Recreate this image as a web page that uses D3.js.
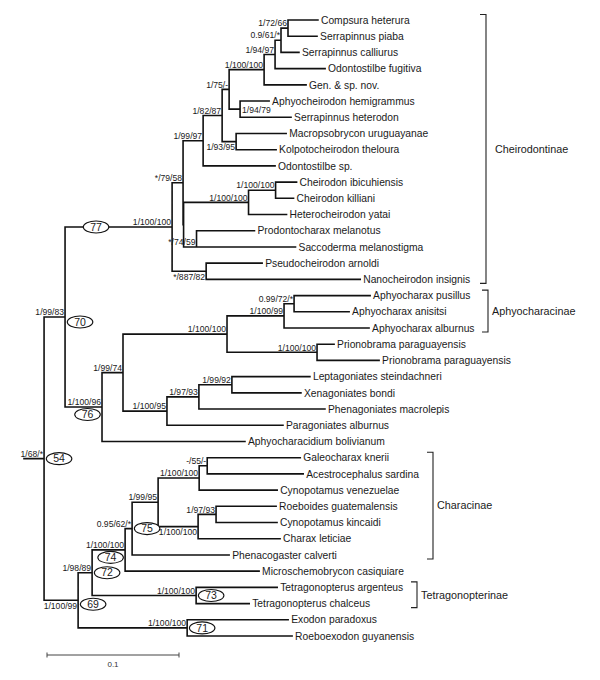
<!DOCTYPE html>
<html><head><meta charset="utf-8">
<script src="https://cdn.jsdelivr.net/npm/d3@7"></script>
<style>body{margin:0;background:#fff}</style>
</head><body>
<svg id="c" width="600" height="680"></svg>
<script>
// ---------- DATA ----------
const leafNames = ["Compsura heterura","Serrapinnus piaba","Serrapinnus calliurus","Odontostilbe fugitiva","Gen. & sp. nov.",
 "Aphyocheirodon hemigrammus","Serrapinnus heterodon","Macropsobrycon uruguayanae","Kolpotocheirodon theloura","Odontostilbe sp.",
 "Cheirodon ibicuhiensis","Cheirodon killiani","Heterocheirodon yatai","Prodontocharax melanotus","Saccoderma melanostigma",
 "Pseudocheirodon arnoldi","Nanocheirodon insignis","Aphyocharax pusillus","Aphyocharax anisitsi","Aphyocharax alburnus",
 "Prionobrama paraguayensis","Prionobrama paraguayensis","Leptagoniates steindachneri","Xenagoniates bondi","Phenagoniates macrolepis",
 "Paragoniates alburnus","Aphyocharacidium bolivianum","Galeocharax knerii","Acestrocephalus sardina","Cynopotamus venezuelae",
 "Roeboides guatemalensis","Cynopotamus kincaidi","Charax leticiae","Phenacogaster calverti","Microschemobrycon casiquiare",
 "Tetragonopterus argenteus","Tetragonopterus chalceus","Exodon paradoxus","Roeboexodon guyanensis"];
const leafParents = ["C8","C8","C7","C6","C5","C9","C9","C10","C10","C2","C13","C13","C12","C14","C14","C15","C15",
 "A4","A4","A3","A5","A5","A8","A8","A7","A6","N76","H3","H3","H2","H5","H5","H4","N75","N74","N73","N73","N71","N71"];
const leafLengths = [0.0227,0.0220,0.0136,0.0379,0.0318,0.0220,0.0386,0.0379,0.0303,0.0545,0.0159,0.0136,0.0288,0.0439,0.0750,
 0.0424,0.1167,0.0576,0.0417,0.0644,0.0129,0.0470,0.0591,0.0523,0.0955,0.0879,0.1083,0.0705,0.0727,0.0591,0.0455,0.0462,
 0.0621,0.0735,0.1015,0.0614,0.0402,0.0765,0.0795];

const nodeIds     = ["R","N70","N77","C1","C2","C3","C4","C5","C6","C7","C8","C9","C10","C11","C12","C13","C14","C15",
 "N76","A1","A2","A3","A4","A5","A6","A7","A8","N69","N72","N74","N75","H1","H2","H3","H4","H5","N73","N71"];
const nodeParents = ["","R","N70","N77","C1","C2","C3","C4","C5","C6","C7","C4","C3","C1","C11","C12","C11","N77",
 "N70","N76","A1","A2","A3","A2","A1","A6","A7","R","N69","N72","N74","N75","H1","H2","H1","H4","N72","N69"];
const nodeLengths = [0,0.0159,0.0811,0.0083,0.0152,0.0144,0.0053,0.0265,0.0083,0.0045,0.0053,0.0083,0.0106,0.0004,0.0492,0.0205,0.0098,0.0258,
 0.0280,0.0159,0.0788,0.0432,0.0076,0.0682,0.0333,0.0242,0.0250,0.0258,0.0106,0.0250,0.0053,0.0197,0.0311,0.0061,0.0303,0.0136,0.0788,0.0826];
const nodeSupports = ["1/68/*","1/99/83","1/100/100","*/79/58","1/99/97","1/82/87","1/75/-","1/100/100","1/94/97","0.9/61/*","1/72/66","1/94/79","1/93/95","","1/100/100","1/100/100","*/74/59","*/887/82",
 "1/100/96","1/99/74","1/100/100","1/100/99","0.99/72/*","1/100/100","1/100/95","1/97/93","1/99/92","1/100/99","1/98/89","1/100/100","0.95/62/*","1/99/95","1/100/100","-/55/-","1/100/100","1/97/93","1/100/100","1/100/100"];
const nodeNumbers = ["54","70","77","","","","","","","","","","","","","","","",
 "76","","","","","","","","","69","72","74","75","","","","","","73","71"];
const rootStem = 0.0152;

const cladeNames = ["Cheirodontinae","Aphyocharacinae","Characinae","Tetragonopterinae"];
const cladeFirst = [0,17,27,35];
const cladeLast  = [16,19,33,36];
const scaleBarValue = 0.1, scaleBarLabel = "0.1";

// ---------- LAYOUT / STYLE ----------
const supportPlace = {C9:"r", C10:"b", C15:"b", N69:"b", H4:"b"};
const numberPlace  = {N77:"s", N74:"bl", N76:"bl"};
const numberDy     = {N70:5, N69:4};
const bottomAnchored = ["C14"];
const cladeX = [486,488,433,417];
const cladeLabelGap = [9,4,4,4];

const svg = d3.select("#c");
const FONT = "'Liberation Sans', Arial, Helvetica, sans-serif";
const x = d3.scaleLinear().domain([0, 0.1]).range([24, 156]);
const y = d3.scalePoint().domain(d3.range(leafNames.length)).range([20, 636]);

const rows = nodeIds.map((id,i)=>({id, parentId: nodeParents[i] || null, len: nodeLengths[i], support: nodeSupports[i], num: nodeNumbers[i]}))
  .concat(leafNames.map((n,i)=>({id:"L"+i, parentId: leafParents[i], len: leafLengths[i], name: n, idx: i})));
const root = d3.stratify().id(d=>d.id).parentId(d=>d.parentId)(rows);

root.eachAfter(n=>{
  if (n.children) { n.children.sort((a,b)=>a.minIdx-b.minIdx); n.minIdx = n.children[0].minIdx; }
  else n.minIdx = n.data.idx;
});
root.eachBefore(n=>{ n.dist = n.parent ? n.parent.dist + n.data.len : rootStem; n.px = x(n.dist); });
root.eachAfter(n=>{
  if (!n.children) n.py = y(n.data.idx);
  else {
    const a = n.children[0].py, b = n.children[n.children.length-1].py;
    n.py = bottomAnchored.includes(n.id) ? b : (a+b)/2;
  }
});

// branches
const p = d3.path();
p.moveTo(x(0), root.py); p.lineTo(root.px, root.py);
root.each(n=>{
  if (n.parent) { p.moveTo(n.parent.px, n.py); p.lineTo(n.px, n.py); }
  if (n.children) { p.moveTo(n.px, n.children[0].py); p.lineTo(n.px, n.children[n.children.length-1].py); }
});
svg.append("path").attr("d", p.toString()).attr("fill","none").attr("stroke","#111")
  .attr("stroke-width",1.6).attr("stroke-linecap","square");

// leaf labels
svg.append("g").selectAll("text").data(root.leaves()).join("text")
  .attr("x", d=>d.px+3).attr("y", d=>d.py).attr("dy","0.36em")
  .attr("font-family",FONT).attr("font-size",10.3).attr("fill","#1a1a1a").text(d=>d.data.name);

// support labels
const internals = root.descendants().filter(d=>d.children && d.data.support);
svg.append("g").selectAll("text").data(internals).join("text")
  .attr("font-family",FONT).attr("font-size",8.6).attr("fill","#1a1a1a")
  .each(function(d){
    const pl = supportPlace[d.id] || "a";
    const t = d3.select(this);
    if (pl === "r") t.attr("x", d.px+2).attr("y", d.py+4).attr("text-anchor","start");
    else if (pl === "b") t.attr("x", d.px-1).attr("y", d.py+8.5).attr("text-anchor","end");
    else t.attr("x", d.px-1).attr("y", d.py-1.8).attr("text-anchor","end");
  }).text(d=>d.data.support);

// numbered ellipses
const numbered = root.descendants().filter(d=>d.data.num);
const eg = svg.append("g").selectAll("g").data(numbered).join("g")
  .attr("transform", d=>{
    const pl = numberPlace[d.id] || "r";
    let cx, cy;
    if (pl === "s") { cx = d.parent.px + 31; cy = d.py; }
    else if (pl === "bl") { cx = d.px - 14.5; cy = d.py + 7.5; }
    else { cx = d.px + 15; cy = d.py + (numberDy[d.id] || 0); }
    return `translate(${cx},${cy})`;
  });
eg.append("ellipse").attr("rx",12.8).attr("ry",6).attr("fill","#fff").attr("stroke","#111").attr("stroke-width",1.1);
eg.append("text").attr("text-anchor","middle").attr("dy","0.36em").attr("font-family",FONT)
  .attr("font-size",10.5).attr("fill","#1a1a1a").text(d=>d.data.num);

// clade brackets
const cg = svg.append("g");
cladeNames.forEach((name,i)=>{
  const y1 = y(cladeFirst[i]) - 5.5, y2 = y(cladeLast[i]) + 4, bx = cladeX[i];
  cg.append("path").attr("d", `M${bx-6},${y1}H${bx}V${y2}H${bx-6}`)
    .attr("fill","none").attr("stroke","#222").attr("stroke-width",1.1);
  cg.append("text").attr("x", bx+cladeLabelGap[i]).attr("y",(y1+y2)/2).attr("dy","0.36em")
    .attr("font-family",FONT).attr("font-size",10.8).attr("fill","#1a1a1a").text(name);
});

// scale bar
const sx0 = 47, sy = 655, sLen = x(scaleBarValue) - x(0);
svg.append("path").attr("d", `M${sx0},${sy-2.5}V${sy+2.5}M${sx0},${sy}H${sx0+sLen}M${sx0+sLen},${sy-2.5}V${sy+2.5}`)
  .attr("fill","none").attr("stroke","#444").attr("stroke-width",1);
svg.append("text").attr("x", sx0+sLen/2).attr("y", sy+11.5).attr("text-anchor","middle")
  .attr("font-family",FONT).attr("font-size",8).attr("fill","#333").text(scaleBarLabel);
</script>
</body></html>
